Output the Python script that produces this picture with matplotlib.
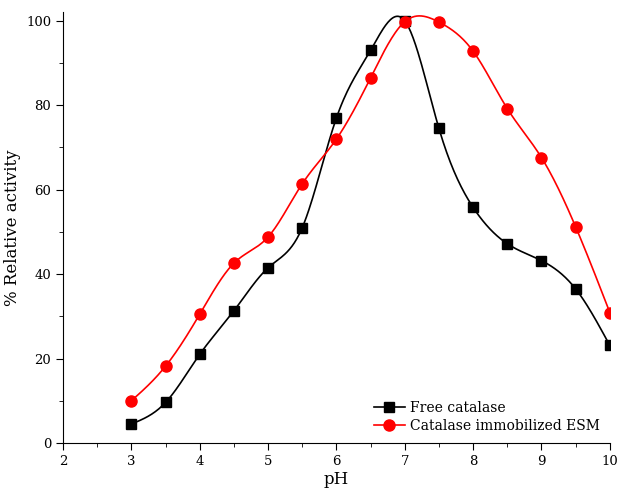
import numpy as np
import matplotlib.pyplot as plt
from matplotlib.ticker import MultipleLocator

ph = [3, 3.5, 4, 4.5, 5, 5.5, 6, 6.5, 7, 7.5, 8, 8.5, 9, 9.5, 10]
free_catalase = [4.5, 9.6, 21.0, 31.3, 41.5, 51.0, 77.0, 93.0, 100.0, 74.5, 55.8, 47.2, 43.2, 36.5, 23.1]
immobilized_esm = [10.0, 18.2, 30.5, 42.6, 48.8, 61.4, 72.0, 86.5, 99.8, 99.7, 92.8, 79.2, 67.6, 51.2, 30.9]


def spline(x, y, n=400):
    # natural cubic spline, just for drawing the smooth line
    x = np.asarray(x, float)
    y = np.asarray(y, float)
    h = np.diff(x)
    m = len(x)
    A = np.zeros((m, m))
    b = np.zeros(m)
    A[0, 0] = A[-1, -1] = 1
    for i in range(1, m - 1):
        A[i, i - 1] = h[i - 1]
        A[i, i] = 2 * (h[i - 1] + h[i])
        A[i, i + 1] = h[i]
        b[i] = 6 * ((y[i + 1] - y[i]) / h[i] - (y[i] - y[i - 1]) / h[i - 1])
    M = np.linalg.solve(A, b)
    xs = np.linspace(x[0], x[-1], n)
    k = np.clip(np.searchsorted(x, xs) - 1, 0, m - 2)
    t0 = x[k + 1] - xs
    t1 = xs - x[k]
    hk = h[k]
    ys = (M[k] * t0**3 + M[k + 1] * t1**3) / (6 * hk) \
        + (y[k] / hk - M[k] * hk / 6) * t0 + (y[k + 1] / hk - M[k + 1] * hk / 6) * t1
    return xs, ys


plt.rcParams['font.family'] = 'DejaVu Serif'

fig = plt.figure(figsize=(6.3, 4.95), dpi=100)
ax = fig.add_axes([0.1, 0.105, 0.868, 0.87])

xs, ys = spline(ph, free_catalase)
ax.plot(xs, ys, color='black', lw=1.2)
ax.plot(ph, free_catalase, 's', color='black', ms=7, ls='none')
xs, ys = spline(ph, immobilized_esm)
ax.plot(xs, ys, color='red', lw=1.2)
ax.plot(ph, immobilized_esm, 'o', color='red', ms=8, ls='none')

# legend handles
ax.plot([], [], 's-', color='black', ms=7, lw=1.2, label='Free catalase')
ax.plot([], [], 'o-', color='red', ms=8, lw=1.2, label='Catalase immobilized ESM')
ax.legend(loc='lower right', frameon=False, fontsize=10, handlelength=2.2,
          borderaxespad=0.3, labelspacing=0.3, handletextpad=0.4)

ax.set_xlim(2, 10)
ax.set_ylim(0, 102)
ax.xaxis.set_major_locator(MultipleLocator(1))
ax.xaxis.set_minor_locator(MultipleLocator(0.5))
ax.yaxis.set_major_locator(MultipleLocator(20))
ax.yaxis.set_minor_locator(MultipleLocator(10))
ax.spines['top'].set_visible(False)
ax.spines['right'].set_visible(False)
ax.tick_params(which='major', length=5, labelsize=9.5)
ax.tick_params(which='minor', length=3)
ax.set_xlabel('pH', fontsize=12, labelpad=2)
ax.set_ylabel('% Relative activity', fontsize=12, labelpad=4)

fig.savefig('out.png', dpi=100)
